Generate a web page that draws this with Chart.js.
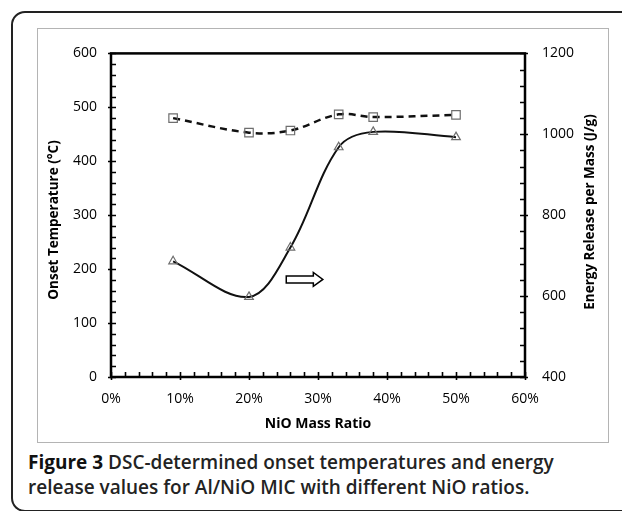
<!DOCTYPE html>
<html>
<head>
<meta charset="utf-8">
<script src="https://cdn.jsdelivr.net/npm/chart.js@4.4.1/dist/chart.umd.min.js"></script>
<style>
    body { margin: 0; background: #fff; width: 622px; height: 511px; overflow: hidden; position: relative; font-family: "Open Sans", sans-serif; }
    #frame { position: absolute; left: 11px; top: 11px; width: 660px; height: 501px; border: 2px solid #222; border-radius: 14px; box-sizing: border-box; }
    #box { position: absolute; left: 37px; top: 28px; width: 572px; height: 415px; border: 1px solid #b4b4b4; box-sizing: border-box; }
    #wrap { position: absolute; left: 37px; top: 28px; width: 572px; height: 414px; }
    #caption { position: absolute; left: 28px; top: 450px; font-size: 19px; line-height: 25px; color: #232323; font-weight: 600; white-space: nowrap; }
    #caption b { font-weight: 700; color: #111; }
</style>
</head>
<body>
<div id="frame"></div>
<div id="box"></div>
<div id="wrap"><canvas id="chart" width="572" height="414"></canvas></div>
<div id="caption"><b>Figure 3</b> DSC-determined onset temperatures and energy<br>release values for Al/NiO MIC with different NiO ratios.</div>
<script>
const nioRatio = [9, 20, 26, 33, 38, 50];
const onsetTemp = [480, 453, 457, 487, 482, 486];
const energyRelease = [686, 598, 720, 968, 1006, 993];

const xTicks = [0, 10, 20, 30, 40, 50, 60];
const leftTicks = [0, 100, 200, 300, 400, 500, 600];
const rightTicks = [400, 600, 800, 1000, 1200];

const xMinorStep = 2;
const leftMinorStep = 20;
const rightMinorStep = 40;

// hollow arrow pointing to the right axis, in data units
const arrowFrom = 25.4;
const arrowTo = 30.7;
const arrowLevel = 181;

const tickFont = { family: 'Open Sans', size: 14 };
const titleFont = { family: 'Open Sans', size: 14, weight: 'bold' };

const axisDecor = {
    id: 'axisDecor',
    afterDatasetsDraw(chart) {
        const { ctx, chartArea: area, scales } = chart;
        const { x, y, y1 } = scales;
        ctx.save();
        ctx.strokeStyle = '#000';
        ctx.lineWidth = 1.6;

        ctx.beginPath();
        for (let v = xTicks[0]; v <= xTicks[xTicks.length - 1]; v += xMinorStep) {
            const px = Math.round(x.getPixelForValue(v)) + 0.5;
            const major = v % 10 === 0;
            ctx.moveTo(px, area.bottom + (major ? 3 : 0));
            ctx.lineTo(px, area.bottom - 5);
        }
        for (let v = leftTicks[0]; v <= leftTicks[leftTicks.length - 1]; v += leftMinorStep) {
            const py = Math.round(y.getPixelForValue(v)) + 0.5;
            const major = v % 100 === 0;
            ctx.moveTo(area.left - (major ? 3 : 0), py);
            ctx.lineTo(area.left + 5, py);
        }
        for (let v = rightTicks[0]; v <= rightTicks[rightTicks.length - 1]; v += rightMinorStep) {
            const py = Math.round(y1.getPixelForValue(v)) + 0.5;
            const major = v % 200 === 0;
            ctx.moveTo(area.right + (major ? 3 : 0), py);
            ctx.lineTo(area.right - 5, py);
        }
        ctx.stroke();

        ctx.lineWidth = 2.5;
        ctx.strokeRect(area.left, area.top, area.right - area.left, area.bottom - area.top);

        // arrow
        const ax0 = x.getPixelForValue(arrowFrom);
        const ax1 = x.getPixelForValue(arrowTo);
        const ay = y.getPixelForValue(arrowLevel);
        const head = 9.5;
        ctx.beginPath();
        ctx.moveTo(ax0, ay - 3.5);
        ctx.lineTo(ax1 - head, ay - 3.5);
        ctx.lineTo(ax1 - head, ay - 7);
        ctx.lineTo(ax1, ay);
        ctx.lineTo(ax1 - head, ay + 7);
        ctx.lineTo(ax1 - head, ay + 3.5);
        ctx.lineTo(ax0, ay + 3.5);
        ctx.closePath();
        ctx.fillStyle = '#fff';
        ctx.fill();
        ctx.lineWidth = 1.5;
        ctx.stroke();

        // rotated y titles (both read bottom to top)
        ctx.fillStyle = '#000';
        ctx.font = 'bold 13.5px "Open Sans"';
        ctx.textAlign = 'center';
        ctx.textBaseline = 'middle';
        ctx.translate(17, 192);
        ctx.rotate(-Math.PI / 2);
        ctx.fillText('Onset Temperature (°C)', 0, 0);
        ctx.setTransform(1, 0, 0, 1, 0, 0);
        ctx.translate(553, 184);
        ctx.rotate(-Math.PI / 2);
        ctx.fillText('Energy Release per Mass (J/g)', 0, 0);
        ctx.restore();
    },
};

new Chart(document.getElementById('chart'), {
    type: 'line',
    data: {
        datasets: [
            {
                label: 'Onset Temperature',
                data: nioRatio.map((r, i) => ({ x: r, y: onsetTemp[i] })),
                yAxisID: 'y',
                borderColor: '#111',
                borderWidth: 2.5,
                borderDash: [7, 5],
                tension: 0.35,
                pointStyle: 'rect',
                pointRadius: 6,
                pointBorderColor: '#6e6e6e',
                pointBackgroundColor: 'rgba(0,0,0,0)',
                pointBorderWidth: 1.2,
            },
            {
                label: 'Energy Release',
                data: nioRatio.map((r, i) => ({ x: r, y: energyRelease[i] })),
                yAxisID: 'y1',
                borderColor: '#111',
                borderWidth: 2,
                tension: 0.35,
                pointStyle: 'triangle',
                pointRadius: 5,
                pointBorderColor: '#6e6e6e',
                pointBackgroundColor: 'rgba(0,0,0,0)',
                pointBorderWidth: 1.2,
            },
        ],
    },
    options: {
        responsive: false,
        animation: false,
        layout: { padding: { top: 14, left: 0, right: 0, bottom: 0 } },
        plugins: { legend: { display: false }, tooltip: { enabled: false } },
        scales: {
            x: {
                type: 'linear',
                min: xTicks[0],
                max: xTicks[xTicks.length - 1],
                afterBuildTicks: (s) => { s.ticks = xTicks.map((v) => ({ value: v })); },
                afterFit: (s) => { s.height = 65; },
                grid: { display: false, drawTicks: false },
                border: { display: false },
                ticks: { font: tickFont, color: '#000', padding: 14, callback: (v) => v + '%' },
                title: { display: true, text: 'NiO Mass Ratio', font: titleFont, color: '#000', padding: { top: 0, bottom: 10 } },
            },
            y: {
                position: 'left',
                min: leftTicks[0],
                max: leftTicks[leftTicks.length - 1],
                afterBuildTicks: (s) => { s.ticks = leftTicks.map((v) => ({ value: v })); },
                afterFit: (s) => { s.width = 74; },
                grid: { display: false, drawTicks: false },
                border: { display: false },
                ticks: { font: tickFont, color: '#000', padding: 14, callback: (v) => String(v) },
            },
            y1: {
                position: 'right',
                min: rightTicks[0],
                max: rightTicks[rightTicks.length - 1],
                afterBuildTicks: (s) => { s.ticks = rightTicks.map((v) => ({ value: v })); },
                afterFit: (s) => { s.width = 84; },
                grid: { display: false, drawTicks: false },
                border: { display: false },
                ticks: { font: tickFont, color: '#000', padding: 17, callback: (v) => String(v) },
            },
        },
    },
    plugins: [axisDecor],
});
</script>
</body>
</html>
